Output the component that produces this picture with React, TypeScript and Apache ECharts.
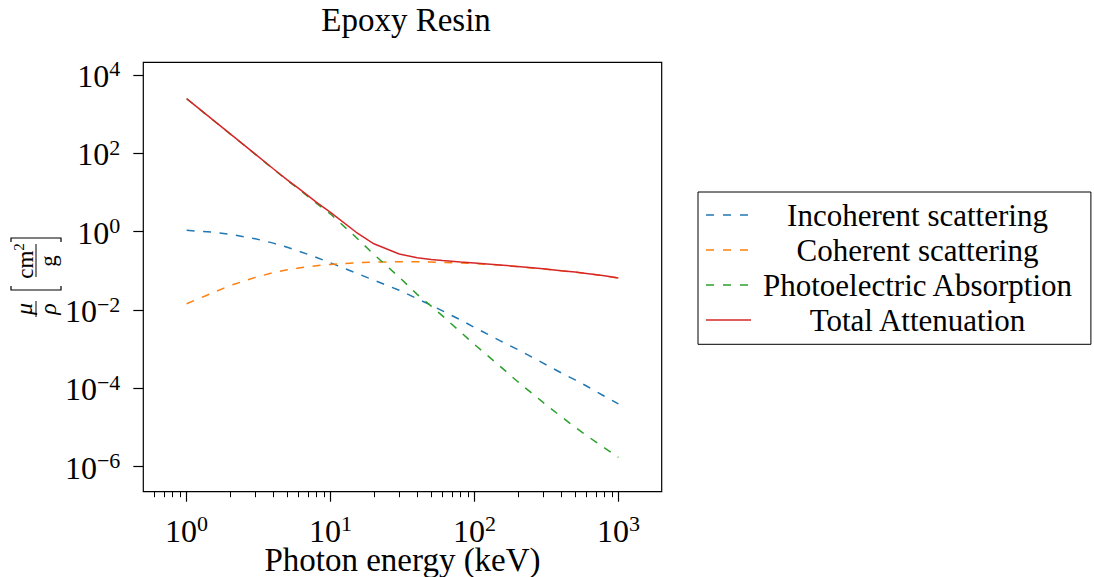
import React, { useEffect, useRef } from "react";
import * as echarts from "echarts";

// Photon energies (keV)
const energies = [1, 1.5, 2, 3, 4, 5, 6, 8, 10, 15, 20, 30, 40, 50, 60, 80, 100, 150, 200, 300, 400, 500, 600, 800, 1000];

// Mass attenuation coefficients (cm^2/g)
const incoherent = [1.08, 0.98, 0.86, 0.66, 0.51, 0.40, 0.32, 0.22, 0.16, 0.088, 0.058, 0.032, 0.0195, 0.0132, 0.0095, 0.0056, 0.0036, 0.00166, 0.00098, 0.00044, 0.00025, 0.000165, 0.000115, 0.000063, 0.00004];
const coherent = [0.0145, 0.027, 0.042, 0.068, 0.09, 0.106, 0.118, 0.135, 0.146, 0.16, 0.167, 0.17, 0.17, 0.168, 0.165, 0.159, 0.153, 0.14, 0.128, 0.112, 0.101, 0.092, 0.086, 0.075, 0.066];
const photoelectric = [2480, 741, 316, 94.4, 39.8, 20.4, 12.3, 5.25, 2.82, 0.724, 0.263, 0.0692, 0.0251, 0.0126, 0.00708, 0.00275, 0.00132, 0.000372, 0.000148, 0.0000437, 0.0000191, 0.0000102, 0.0000063, 0.00000302, 0.00000174];
const total = [2500, 745, 317, 95.2, 40.5, 21.0, 12.7, 5.6, 3.12, 0.98, 0.49, 0.27, 0.215, 0.195, 0.183, 0.168, 0.158, 0.142, 0.129, 0.113, 0.101, 0.093, 0.086, 0.075, 0.066];

const seriesNames = ["Incoherent scattering", "Coherent scattering", "Photoelectric Absorption", "Total Attenuation"];
const seriesColors = ["#1f77b4", "#ff7f0e", "#2ca02c", "#d62728"];

// Axis ticks (powers of ten) and limits
const xTickExponents = [0, 1, 2, 3];
const yTickExponents = [-6, -4, -2, 0, 2, 4];
const xMinorTickValues = [0.6, 0.7, 0.8, 0.9, 2, 3, 4, 5, 6, 7, 8, 9, 20, 30, 40, 50, 60, 70, 80, 90, 200, 300, 400, 500, 600, 700, 800, 900];
const xLimits = [0.5, 2000];
const yLimitExponents = [-6.638, 4.324];

const FONT = '"Liberation Serif", "DejaVu Serif", serif';

const DASH_ICON = "path://M0,0h8v1.5h-8z M17,0h8v1.5h-8z M34,0h8v1.5h-8z M45,0h0.01v1.5h-0.01z";
const SOLID_ICON = "path://M0,0h45v1.5h-45z";

const sup = (v: number) => {
  const n = Math.round(v);
  return "{b|10}{s|" + (n < 0 ? "\u2212" + Math.abs(n) : String(n)) + "}";
};

const richPow = {
  b: { fontFamily: FONT, fontSize: 32, lineHeight: 34, verticalAlign: "bottom", color: "#000" },
  s: { fontFamily: FONT, fontSize: 22, lineHeight: 22, verticalAlign: "top", color: "#000" },
};

const centered = { align: "center", verticalAlign: "middle", textAlign: "center", textVerticalAlign: "middle", fill: "#000" };

export default function App() {
  const ref = useRef<HTMLDivElement>(null);

  useEffect(() => {
    if (!ref.current) return;
    const chart = echarts.init(ref.current, null, { renderer: "svg" });
    const lg = (v: number) => Math.log10(v);
    const allSeries = [incoherent, coherent, photoelectric, total];

    const series = allSeries.map((vals, i) => ({
      name: seriesNames[i],
      type: "line",
      xAxisIndex: 0,
      yAxisIndex: 0,
      data: energies.map((e, j) => [lg(e), lg(vals[j])]),
      showSymbol: false,
      symbol: "none",
      smooth: false,
      color: seriesColors[i],
      lineStyle: {
        color: seriesColors[i],
        width: 1.5,
        type: i === 3 ? "solid" : [8, 8.5],
      },
      z: i === 3 ? 3 : 2,
    }));

    const option: any = {
      animation: false,
      backgroundColor: "#fff",
      grid: {
        left: 143.3,
        top: 62.3,
        width: 518.4,
        height: 429.4,
        show: true,
        borderColor: "#000",
        borderWidth: 1.2,
        backgroundColor: "transparent",
        containLabel: false,
        outerBoundsMode: "none",
      },
      xAxis: [
        {
          type: "value",
          position: "bottom",
          min: lg(xLimits[0]),
          max: lg(xLimits[1]),
          axisLine: { show: false, onZero: false },
          splitLine: { show: false },
          axisTick: {
            show: true,
            customValues: xTickExponents,
            length: 10,
            lineStyle: { color: "#000", width: 1.2 },
          },
          axisLabel: {
            customValues: xTickExponents,
            formatter: (v: number) => sup(v),
            margin: 21,
            rich: richPow,
          },
          name: "Photon energy (keV)",
          nameLocation: "middle",
          nameGap: 52,
          nameMoveOverlap: false,
          nameTextStyle: { fontFamily: FONT, fontSize: 33, color: "#000" },
        },
        {
          type: "value",
          gridIndex: 0,
          position: "bottom",
          min: lg(xLimits[0]),
          max: lg(xLimits[1]),
          axisLine: { show: false, onZero: false },
          splitLine: { show: false },
          axisLabel: { show: false },
          axisTick: {
            show: true,
            customValues: xMinorTickValues.map(lg),
            length: 5.5,
            lineStyle: { color: "#000", width: 1 },
          },
        },
      ],
      yAxis: [
        {
          type: "value",
          position: "left",
          min: yLimitExponents[0],
          max: yLimitExponents[1],
          axisLine: { show: false, onZero: false },
          splitLine: { show: false },
          axisTick: {
            show: true,
            customValues: yTickExponents,
            length: 10,
            lineStyle: { color: "#000", width: 1.2 },
          },
          axisLabel: {
            customValues: yTickExponents,
            formatter: (v: number) => sup(v),
            margin: 23,
            rich: richPow,
          },
        },
      ],
      legend: {
        orient: "vertical",
        left: 698,
        top: 192,
        padding: [7.5, 18, 8.8, 8],
        itemWidth: 45,
        itemHeight: 1.5,
        itemGap: 4,
        borderColor: "#000",
        borderWidth: 1,
        borderRadius: 0,
        backgroundColor: "#fff",
        data: seriesNames.map((n, i) => ({ name: n, icon: i === 3 ? SOLID_ICON : DASH_ICON })),
        formatter: (name: string) => "{t|" + name + "}",
        textStyle: {
          fontFamily: FONT,
          fontSize: 31,
          color: "#000",
          rich: {
            t: { fontFamily: FONT, fontSize: 31, width: 323, align: "center", color: "#000" },
          },
        },
      },
      graphic: [
        {
          type: "text",
          x: 406,
          y: 20,
          style: { ...centered, text: "Epoxy Resin", fontFamily: FONT, fontSize: 33 },
        },
        {
          type: "group",
          x: 36,
          y: 276,
          rotation: Math.PI / 2,
          children: [
            { type: "text", x: -33, y: -12, style: { ...centered, text: "\u03bc", fontFamily: FONT, fontStyle: "italic", fontSize: 24 } },
            { type: "line", shape: { x1: -41, y1: 0, x2: -25, y2: 0 }, style: { stroke: "#000", lineWidth: 1 } },
            { type: "text", x: -33, y: 12, style: { ...centered, text: "\u03c1", fontFamily: FONT, fontStyle: "italic", fontSize: 24 } },
            { type: "polyline", shape: { points: [[-10, -25], [-14, -25], [-14, 25], [-10, 25]] }, style: { stroke: "#000", lineWidth: 1.2, fill: null } },
            {
              type: "text", x: 15, y: -12,
              style: {
                ...centered,
                text: "{a|cm}{p|2}",
                rich: {
                  a: { fontFamily: FONT, fontSize: 23, lineHeight: 26, verticalAlign: "bottom" },
                  p: { fontFamily: FONT, fontSize: 15, lineHeight: 17, verticalAlign: "top" },
                },
              },
            },
            { type: "line", shape: { x1: -1, y1: 0, x2: 32, y2: 0 }, style: { stroke: "#000", lineWidth: 1 } },
            { type: "text", x: 15, y: 12, style: { ...centered, text: "g", fontFamily: FONT, fontSize: 23 } },
            { type: "polyline", shape: { points: [[34, -25], [38, -25], [38, 25], [34, 25]] }, style: { stroke: "#000", lineWidth: 1.2, fill: null } },
          ],
        },
      ],
      series,
    };

    chart.setOption(option);
    return () => chart.dispose();
  }, []);

  return (
    <div
      ref={ref}
      style={{ position: "fixed", left: 0, top: 0, width: 1094, height: 577, background: "#fff" }}
    />
  );
}
